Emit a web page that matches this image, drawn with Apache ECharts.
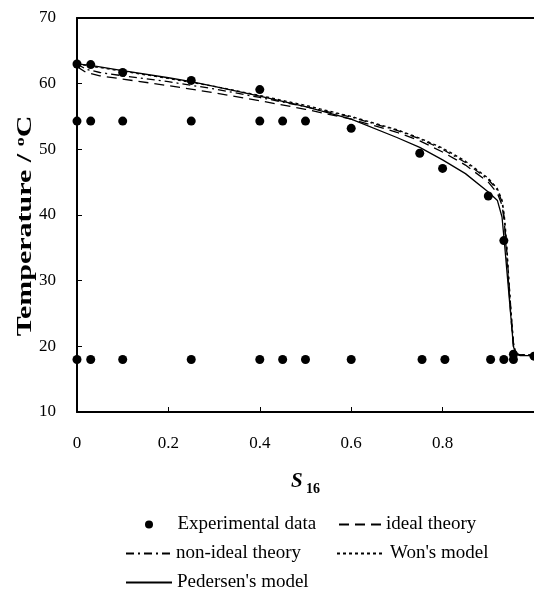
<!DOCTYPE html>
<html>
<head>
<meta charset="utf-8">
<script src="https://cdn.jsdelivr.net/npm/echarts@6/dist/echarts.min.js"></script>
<style>html,body{margin:0;padding:0;background:#fff}#c{width:534px;height:590px}</style>
</head>
<body>
<div id="c"></div>
<script>
// Experimental data
const expX = [0, 0.03, 0.1, 0.25, 0.4, 0.6, 0.75, 0.8, 0.9, 0.934, 0.955, 1.0,
              0, 0.03, 0.1, 0.25, 0.4, 0.45, 0.5,
              0, 0.03, 0.1, 0.25, 0.4, 0.45, 0.5, 0.6, 0.755, 0.805, 0.905, 0.934, 0.955];
const expT = [63.0, 62.9, 61.7, 60.5, 59.1, 53.2, 49.4, 47.1, 42.9, 36.1, 18.8, 18.5,
              54.3, 54.3, 54.3, 54.3, 54.3, 54.3, 54.3,
              18.0, 18.0, 18.0, 18.0, 18.0, 18.0, 18.0, 18.0, 18.0, 18.0, 18.0, 18.0, 18.0];

// Model curves
const idealX = [0, 0.02, 0.05, 0.1, 0.2, 0.3, 0.4, 0.5, 0.6, 0.7, 0.75, 0.8, 0.85, 0.9, 0.92, 0.93, 0.935, 0.94, 0.945, 0.95, 0.955, 0.96, 0.97, 1.0];
const idealT = [62.6, 61.7, 61.2, 60.7, 59.7, 58.6, 57.4, 56.1, 54.6, 52.6, 51.3, 49.6, 47.6, 45.0, 43.3, 41.5, 39.0, 34.0, 29.0, 24.0, 20.0, 18.8, 18.7, 18.7];

const nonIdealX = [0, 0.02, 0.05, 0.1, 0.2, 0.3, 0.4, 0.5, 0.6, 0.7, 0.75, 0.8, 0.85, 0.9, 0.92, 0.93, 0.935, 0.94, 0.945, 0.95, 0.955, 0.96, 0.97, 1.0];
const nonIdealT = [63.0, 62.2, 61.7, 61.2, 60.3, 59.2, 57.9, 56.5, 54.9, 52.9, 51.6, 50.0, 48.0, 45.4, 43.8, 42.0, 39.5, 35.0, 30.0, 25.0, 20.5, 18.9, 18.7, 18.7];

const wonX = [0, 0.1, 0.2, 0.3, 0.4, 0.5, 0.6, 0.7, 0.75, 0.8, 0.85, 0.9, 0.92, 0.93, 0.935, 0.94, 0.945, 0.95, 0.955, 0.96, 0.97, 1.0];
const wonT = [63.0, 61.9, 60.8, 59.6, 58.2, 56.7, 55.0, 53.0, 51.7, 50.2, 48.2, 45.6, 44.0, 42.3, 40.0, 36.0, 30.0, 25.0, 20.5, 18.9, 18.7, 18.7];

const pedX = [0, 0.03, 0.1, 0.2, 0.25, 0.3, 0.4, 0.5, 0.6, 0.7, 0.75, 0.8, 0.85, 0.9, 0.92, 0.93, 0.935, 0.94, 0.945, 0.95, 0.955, 0.96, 0.97, 1.0];
const pedT = [63.0, 62.8, 62.0, 60.9, 60.3, 59.6, 58.1, 56.5, 54.6, 51.8, 50.3, 48.4, 46.3, 43.5, 42.2, 39.7, 36.0, 32.0, 28.0, 24.0, 20.0, 18.8, 18.6, 18.6];

const xTicks = [0, 0.2, 0.4, 0.6, 0.8];
const yTicks = [10, 20, 30, 40, 50, 60, 70];
const yTitle = 'Temperature / {sup|o}C';

const zip = (xs, ys) => xs.map((x, i) => [x, ys[i]]);
const FONT = 'Liberation Serif';

const chart = echarts.init(document.getElementById('c'), null, {renderer: 'canvas'});
const legendText = {fontFamily: FONT, fontSize: 19, color: '#000'};
const lineSeries = (name, xs, ys, dash) => ({
  name, type: 'line', data: zip(xs, ys), symbol: 'none', smooth: false,
  lineStyle: {color: '#000', width: 1.3, type: dash}, itemStyle: {color: '#000'},
  z: 3, animation: false
});
const lineLegend = (name, left, top, w) => ({
  data: [{name, itemStyle: {opacity: 0}}], left, top, itemWidth: w, itemHeight: 14, padding: 0,
  textStyle: legendText, selectedMode: false
});

chart.setOption({
  animation: false,
  grid: {left: 77, top: 18, width: 459, height: 394, containLabel: false},
  xAxis: [{
    type: 'value', min: 0, max: 1, interval: 0.2,
    name: '{s|S}{sub| 16}', nameLocation: 'middle', nameGap: 56,
    nameTextStyle: {rich: {
      s: {fontFamily: FONT, fontSize: 21, fontWeight: 'bold', fontStyle: 'italic', color: '#000', verticalAlign: 'bottom', lineHeight: 24},
      sub: {fontFamily: FONT, fontSize: 14, fontWeight: 'bold', color: '#000', verticalAlign: 'bottom', lineHeight: 18, padding: [0, 0, -4, 0]}
    }},
    axisLine: {lineStyle: {color: '#000', width: 2}},
    axisTick: {inside: true, length: 5, lineStyle: {color: '#000', width: 1}, customValues: xTicks.slice(1)},
    axisLabel: {fontFamily: FONT, fontSize: 17, color: '#000', margin: 23, customValues: xTicks,
      formatter: v => String(+(+v).toFixed(1))},
    splitLine: {show: false}
  }, {
    type: 'value', min: 0, max: 1, position: 'top',
    axisLine: {show: true, lineStyle: {color: '#000', width: 2}},
    axisTick: {show: false}, axisLabel: {show: false}, splitLine: {show: false}
  }],
  yAxis: {
    type: 'value', min: 10, max: 70, interval: 10,
    axisLine: {lineStyle: {color: '#000', width: 2}},
    axisTick: {inside: true, length: 5, lineStyle: {color: '#000', width: 1}},
    axisLabel: {fontFamily: FONT, fontSize: 17, color: '#000', margin: 21,
      formatter: v => (yTicks.indexOf(v) >= 0 ? String(v) : '')},
    splitLine: {show: false}
  },
  graphic: [{
    type: 'text', x: 26, y: 226, rotation: Math.PI / 2, scaleX: 1.5,
    style: {text: yTitle, fontFamily: FONT, fontSize: 20, fontWeight: 'bold', fill: '#000',
      align: 'center', verticalAlign: 'middle',
      rich: {sup: {fontFamily: FONT, fontSize: 12, fontWeight: 'bold', fill: '#000', verticalAlign: 'top', padding: [0, 0, 10, 0]}}}
  }],
  legend: [
    {data: ['Experimental data'], left: 145, top: 515, itemWidth: 47, itemHeight: 8, padding: 0, textStyle: legendText, selectedMode: false},
    lineLegend('ideal theory', 338, 515, 42),
    lineLegend('non-ideal theory', 125, 544, 45),
    lineLegend("Won's model", 336, 544, 48),
    lineLegend("Pedersen's model", 125, 573, 46)
  ],
  series: [
    {name: 'Experimental data', type: 'scatter', data: zip(expX, expT), symbol: 'circle', symbolSize: 9,
      itemStyle: {color: '#000', opacity: 1}, z: 5, clip: false},
    lineSeries('ideal theory', idealX, idealT, [10, 6]),
    lineSeries('non-ideal theory', nonIdealX, nonIdealT, [8, 4, 2, 4]),
    lineSeries("Won's model", wonX, wonT, [3, 3]),
    lineSeries("Pedersen's model", pedX, pedT, 'solid')
  ]
});
</script>
</body>
</html>
